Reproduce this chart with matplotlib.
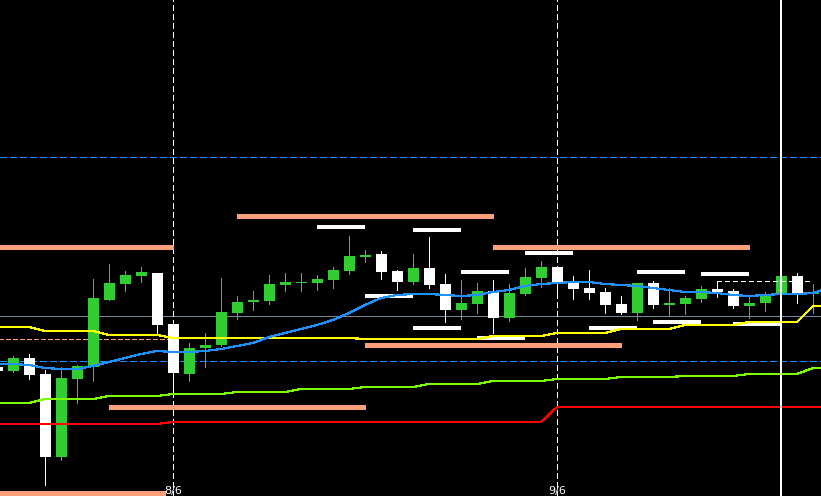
import matplotlib
matplotlib.use("Agg")
import matplotlib.pyplot as plt

# bar index (0 = first full bar on the left), prices in points
candle_idx = list(range(-1, 51))
opens = [133, 129, 142, 126, 43, 121, 133, 200, 216, 224, 227, 176, 126, 152, 155, 187, 198, 199,
         215, 217, 217, 220, 229, 243, 246, 229, 218, 232, 216, 190, 196, 209, 182, 206, 222, 233,
         218, 212, 208, 196, 187, 217, 195, 196, 201, 211, 209, 194, 197, 206, 224, 206]
highs = [134, 144, 146, 130, 133, 135, 221, 236, 229, 233, 227, 178, 157, 167, 222, 204, 209, 225,
         227, 227, 225, 233, 264, 250, 249, 230, 246, 263, 226, 220, 217, 220, 216, 232, 239, 234,
         224, 230, 212, 204, 217, 219, 212, 204, 214, 219, 211, 204, 208, 224, 227, 216]
lows = [128, 128, 121, 15, 40, 97, 119, 200, 209, 218, 166, 109, 119, 133, 154, 181, 190, 196,
        209, 209, 210, 212, 226, 238, 221, 210, 216, 212, 178, 181, 187, 167, 179, 205, 213, 206,
        201, 201, 187, 186, 180, 192, 184, 186, 198, 203, 192, 182, 189, 206, 197, 187]
closes = [129, 142, 125, 43, 122, 134, 202, 217, 225, 228, 175, 127, 152, 155, 188, 198, 200, 216,
          218, 218, 221, 230, 244, 245, 228, 218, 232, 215, 190, 197, 209, 182, 207, 223, 233, 217,
          211, 207, 195, 187, 217, 195, 197, 202, 211, 208, 194, 197, 206, 224, 205, 207]

ma_idx = list(range(-1, 52))
ma_blue = [136, 136, 135, 132, 131, 131, 134, 138, 142, 146, 149, 148, 148, 149, 151, 154, 157, 163,
           167, 171, 175, 180, 187, 195, 202, 205, 206, 206, 205, 204, 205, 208, 210, 214, 216, 217,
           218, 218, 216, 215, 214, 212, 210, 208, 208, 207, 205, 204, 205, 206, 206, 207, 212]
ma_yellow = [173] * 3 + [169] * 4 + [165] * 4 + [162] * 12 + [161] * 8 + [164] * 4 + [167] * 4 \
    + [171] * 4 + [175] * 4 + [178] * 4 + [194] * 2
ma_green = [97] * 3 + [101] * 4 + [104] * 4 + [106] * 4 + [108] * 4 + [111] * 4 + [113] * 4 \
    + [116] * 4 + [119] * 4 + [121] * 4 + [123] * 4 + [124] * 4 + [126] * 4 + [132] * 2
ma_red = [76] * 11 + [78] * 24 + [93] * 18

# horizontal level segments
salmon_start = [-6, -6, 6, 14, 22, 30]
salmon_end = [10, 9.5, 22, 30, 38, 46]
salmon_price = [253, 7, 93, 284, 155, 253]

white_start = [19, 22, 25, 25, 28, 29, 32, 36, 39, 40, 43, 45]
white_end = [22, 25, 28, 28, 31, 32, 35, 39, 42, 43, 46, 48]
white_price = [273, 204, 270, 172, 228, 162, 247, 172, 228, 178, 226, 176]

day_idx = [10, 34]
day_labels = ["8/6", "9/6"]
now_idx = 48
blue_grid = [343, 139]
gray_level = 184
pink_level = 161
high_mark = 219

BULL = "#32cd32"
BEAR = "#ffffff"

fig = plt.figure(figsize=(8.21, 4.96), dpi=100, facecolor="black")
ax = fig.add_axes([0, 0, 1, 1])
ax.set_facecolor("black")
ax.set_xlim(-13 / 16, 50.5)
ax.set_ylim(4, 500)
ax.axis("off")

px = 0.72  # one pixel in points

# background lines
for lv in blue_grid:
    ax.axhline(lv, color="#1e90ff", lw=px * 1.2, dashes=(5, 3), antialiased=False, zorder=1)
ax.axhline(gray_level, color="#778899", lw=px, antialiased=False, zorder=1)
ax.plot([-2, 10], [pink_level, pink_level], color="#ffa07a", lw=px * 1.2, dashes=(4, 2),
        antialiased=False, zorder=1)
for d in day_idx:
    ax.axvline(d, color="white", lw=px * 1.3, dashes=(4, 3), antialiased=False, zorder=1)

# candles
for i, o, h, l, c in zip(candle_idx, opens, highs, lows, closes):
    col = BULL if c >= o else BEAR
    ax.vlines(i, l, h, color=col, lw=px, antialiased=False, zorder=2)
    lo, hi = min(o, c), max(o, c)
    ax.bar(i, max(hi - lo, 1), bottom=lo, width=11 / 16, color=col, linewidth=0,
           antialiased=False, zorder=3)

# level segments
for s, e, p in zip(salmon_start, salmon_end, salmon_price):
    ax.plot([s, e], [p, p], color="#ffa07a", lw=px * 3.2, solid_capstyle="butt",
            antialiased=False, zorder=4)
for s, e, p in zip(white_start, white_end, white_price):
    ax.plot([s, e], [p, p], color="white", lw=px * 2.4, solid_capstyle="butt",
            antialiased=False, zorder=4)
ax.plot([44, 49.75], [high_mark, high_mark], color="white", lw=px * 1.2, dashes=(4, 3),
        antialiased=False, zorder=4)

# moving averages
ax.plot(ma_idx, ma_red, color="#ff0000", lw=px * 1.2, antialiased=False, zorder=5)
ax.plot(ma_idx, ma_green, color="#7cfc00", lw=px * 1.2, antialiased=False, zorder=5)
ax.plot(ma_idx, ma_yellow, color="#ffff00", lw=px * 1.2, antialiased=False, zorder=5)
ax.plot(ma_idx, ma_blue, color="#1e90ff", lw=px * 1.2, antialiased=False, zorder=5)

ax.axvline(now_idx, color="white", lw=px * 1.6, antialiased=False, zorder=6)

for d, lab in zip(day_idx, day_labels):
    ax.text(d, 9, lab, color="white", fontsize=8, ha="center", va="center", zorder=7)

fig.savefig("out.png", dpi=100, facecolor="black")
